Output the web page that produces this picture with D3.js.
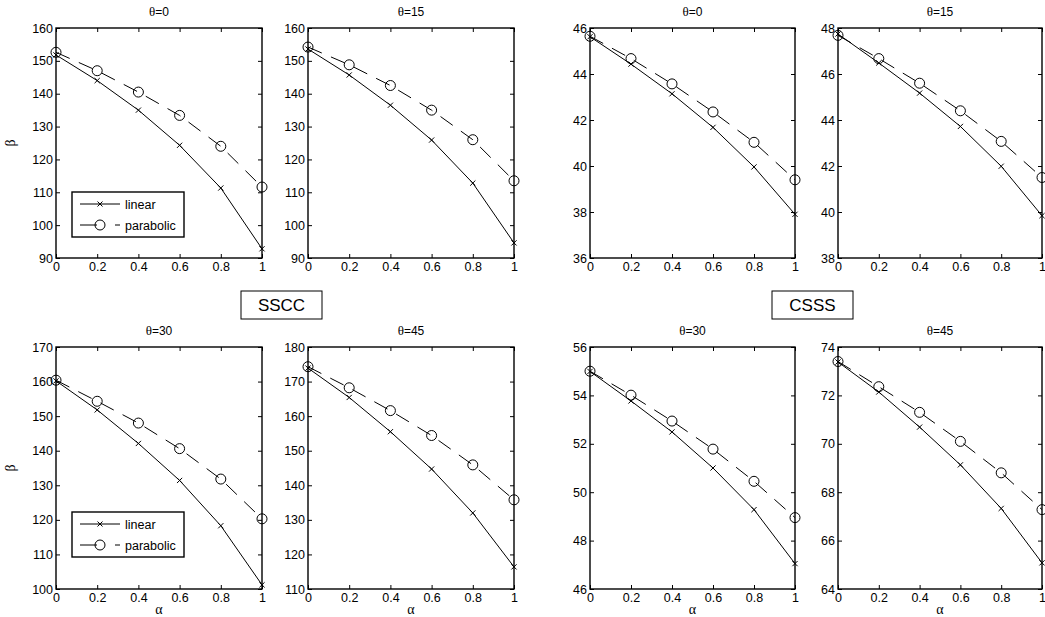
<!DOCTYPE html>
<html>
<head>
<meta charset="utf-8">
<script src="https://cdn.jsdelivr.net/npm/d3@7"></script>
<style>
  body { margin: 0; background: #fff; }
  svg { display: block; }
  .tick text { font-family: "Liberation Sans", Arial, sans-serif; font-size: 12.5px; fill: #000; }
</style>
</head>
<body>
<svg id="chart" width="1045" height="617"></svg>
<script>
// alpha values on the x axis
const alpha = [0, 0.2, 0.4, 0.6, 0.8, 1];
const xTickLabels = ["0", "0.2", "0.4", "0.6", "0.8", "1"];

// SSCC, beta vs alpha
const ssccLin0  = [151.8, 144.0, 135.0, 124.3, 111.3, 92.8];
const ssccPar0  = [152.6, 147.0, 140.5, 133.4, 124.0, 111.6];
const ssccLin15 = [153.6, 145.7, 136.5, 125.9, 112.8, 94.6];
const ssccPar15 = [154.2, 148.8, 142.5, 135.0, 126.0, 113.5];
const ssccLin30 = [160.2, 151.8, 142.1, 131.4, 118.3, 101.2];
const ssccPar30 = [160.4, 154.3, 148.0, 140.6, 131.8, 120.3];
const ssccLin45 = [173.9, 165.4, 155.5, 144.7, 132.0, 116.4];
const ssccPar45 = [174.3, 168.2, 161.6, 154.4, 145.9, 135.8];

// CSSS, beta vs alpha
const csssLin0  = [45.62, 44.43, 43.14, 41.68, 39.96, 37.9];
const csssPar0  = [45.64, 44.67, 43.57, 42.35, 41.03, 39.4];
const csssLin15 = [47.74, 46.48, 45.17, 43.72, 41.99, 39.84];
const csssPar15 = [47.68, 46.67, 45.60, 44.40, 43.07, 41.5];
const csssLin30 = [54.99, 53.77, 52.49, 51.00, 49.28, 47.05];
const csssPar30 = [55.00, 54.01, 52.94, 51.78, 50.45, 48.95];
const csssLin45 = [73.38, 72.14, 70.69, 69.13, 67.33, 65.08];
const csssPar45 = [73.40, 72.36, 71.30, 70.10, 68.80, 67.28];

const thetas = ["0", "15", "30", "45"];
const yDomains = [[90, 160], [90, 160], [36, 46], [38, 48], [100, 170], [110, 180], [46, 56], [64, 74]];
const yStep = [10, 10, 2, 2, 10, 10, 2, 2];

const panels = [
  { lin: ssccLin0,  par: ssccPar0,  theta: thetas[0], col: 0, row: 0, legend: true },
  { lin: ssccLin15, par: ssccPar15, theta: thetas[1], col: 1, row: 0 },
  { lin: csssLin0,  par: csssPar0,  theta: thetas[0], col: 2, row: 0 },
  { lin: csssLin15, par: csssPar15, theta: thetas[1], col: 3, row: 0 },
  { lin: ssccLin30, par: ssccPar30, theta: thetas[2], col: 0, row: 1, legend: true },
  { lin: ssccLin45, par: ssccPar45, theta: thetas[3], col: 1, row: 1 },
  { lin: csssLin30, par: csssPar30, theta: thetas[2], col: 2, row: 1 },
  { lin: csssLin45, par: csssPar45, theta: thetas[3], col: 3, row: 1 }
];

const colX = [[56, 262], [308, 514], [590, 795], [838, 1042]];
const rowY = [[28, 258], [347, 589]];
const legendTop = [66, 77]; // distance of legend box top above the x axis, per row

const svg = d3.select("#chart");
const sans = '"Liberation Sans", Arial, sans-serif';
const serif = '"Liberation Serif", "Times New Roman", serif';

panels.forEach((p, i) => {
  const [x0, x1] = colX[p.col];
  const [y0, y1] = rowY[p.row];
  const dom = yDomains[i];

  const x = d3.scaleLinear().domain([0, 1]).range([x0, x1]);
  const y = d3.scaleLinear().domain(dom).range([y1, y0]);
  const yTicks = d3.range(dom[0], dom[1] + 0.001, yStep[i]);

  const g = svg.append("g");

  // axes with inward ticks, like matlab
  g.append("g")
    .attr("transform", `translate(0,${y1})`)
    .call(d3.axisBottom(x).tickValues(alpha).tickFormat((d, k) => xTickLabels[k])
      .tickSizeInner(-4).tickSizeOuter(0).tickPadding(4));
  g.append("g")
    .attr("transform", `translate(0,${y0})`)
    .call(d3.axisTop(x).tickValues(alpha).tickFormat("").tickSizeInner(-4).tickSizeOuter(0));
  g.append("g")
    .attr("transform", `translate(${x0},0)`)
    .call(d3.axisLeft(y).tickValues(yTicks).tickFormat(d3.format("d"))
      .tickSizeInner(-4).tickSizeOuter(0).tickPadding(3));
  g.append("g")
    .attr("transform", `translate(${x1},0)`)
    .call(d3.axisRight(y).tickValues(yTicks).tickFormat("").tickSizeInner(-4).tickSizeOuter(0));
  g.selectAll(".domain").remove();
  g.selectAll(".tick line").attr("stroke", "#000");

  g.append("rect")
    .attr("x", x0).attr("y", y0)
    .attr("width", x1 - x0).attr("height", y1 - y0)
    .attr("fill", "none").attr("stroke", "#000").attr("stroke-width", 1.4);

  const lineGen = d3.line().x((d, k) => x(alpha[k])).y(d => y(d));

  // linear: solid with x marks
  g.append("path").datum(p.lin)
    .attr("d", lineGen).attr("fill", "none").attr("stroke", "#000").attr("stroke-width", 1);
  g.selectAll(".xm").data(p.lin).join("path")
    .attr("d", (d, k) => {
      const cx = x(alpha[k]), cy = y(d), s = 2.6;
      return `M${cx - s},${cy - s}L${cx + s},${cy + s}M${cx - s},${cy + s}L${cx + s},${cy - s}`;
    })
    .attr("stroke", "#000").attr("stroke-width", 1);

  // parabolic: dashed with open circles
  g.append("path").datum(p.par)
    .attr("d", lineGen).attr("fill", "none").attr("stroke", "#000").attr("stroke-width", 1)
    .attr("stroke-dasharray", "15,10");
  g.selectAll(".om").data(p.par).join("circle")
    .attr("cx", (d, k) => x(alpha[k])).attr("cy", d => y(d)).attr("r", 5)
    .attr("fill", "none").attr("stroke", "#000").attr("stroke-width", 1);

  // title
  const t = g.append("text")
    .attr("x", (x0 + x1) / 2).attr("y", y0 - 12)
    .attr("text-anchor", "middle")
    .style("font-family", sans).style("font-size", "12px");
  t.append("tspan").style("font-family", serif).style("font-size", "13px").text("θ");
  t.append("tspan").text("=" + p.theta);

  if (p.col === 0) {
    g.append("text")
      .attr("transform", `translate(15,${(y0 + y1) / 2}) rotate(-90)`)
      .attr("text-anchor", "middle")
      .style("font-family", serif).style("font-size", "14px")
      .text("β");
  }
  if (p.row === 1) {
    g.append("text")
      .attr("x", (x0 + x1) / 2).attr("y", 614)
      .attr("text-anchor", "middle")
      .style("font-family", serif).style("font-size", "14px")
      .text("α");
  }

  if (p.legend) {
    const lx = x0 + 16, ly = y1 - legendTop[p.row], lw = 112, lh = 45;
    const lg = g.append("g");
    lg.append("rect").attr("x", lx).attr("y", ly).attr("width", lw).attr("height", lh)
      .attr("fill", "#fff").attr("stroke", "#000").attr("stroke-width", 1.4);
    const r1 = ly + 12, r2 = ly + 33;
    lg.append("line").attr("x1", lx + 8).attr("x2", lx + 48).attr("y1", r1).attr("y2", r1)
      .attr("stroke", "#000");
    lg.append("path")
      .attr("d", `M${lx + 25.5},${r1 - 2.5}L${lx + 30.5},${r1 + 2.5}M${lx + 25.5},${r1 + 2.5}L${lx + 30.5},${r1 - 2.5}`)
      .attr("stroke", "#000");
    lg.append("line").attr("x1", lx + 8).attr("x2", lx + 48).attr("y1", r2).attr("y2", r2)
      .attr("stroke", "#000").attr("stroke-dasharray", "17,18");
    lg.append("circle").attr("cx", lx + 28).attr("cy", r2).attr("r", 5)
      .attr("fill", "none").attr("stroke", "#000");
    lg.append("text").attr("x", lx + 53).attr("y", r1 + 4.5)
      .style("font-family", sans).style("font-size", "12.5px").text("linear");
    lg.append("text").attr("x", lx + 53).attr("y", r2 + 4.5)
      .style("font-family", sans).style("font-size", "12.5px").text("parabolic");
  }
});

// group labels
const groups = [{ name: "SSCC", x: 241 }, { name: "CSSS", x: 772 }];
groups.forEach(gr => {
  svg.append("rect").attr("x", gr.x).attr("y", 291).attr("width", 81).attr("height", 28)
    .attr("fill", "#fff").attr("stroke", "#000").attr("stroke-width", 1);
  svg.append("text").attr("x", gr.x + 40.5).attr("y", 311)
    .attr("text-anchor", "middle")
    .style("font-family", sans).style("font-size", "17px")
    .text(gr.name);
});
</script>
</body>
</html>
